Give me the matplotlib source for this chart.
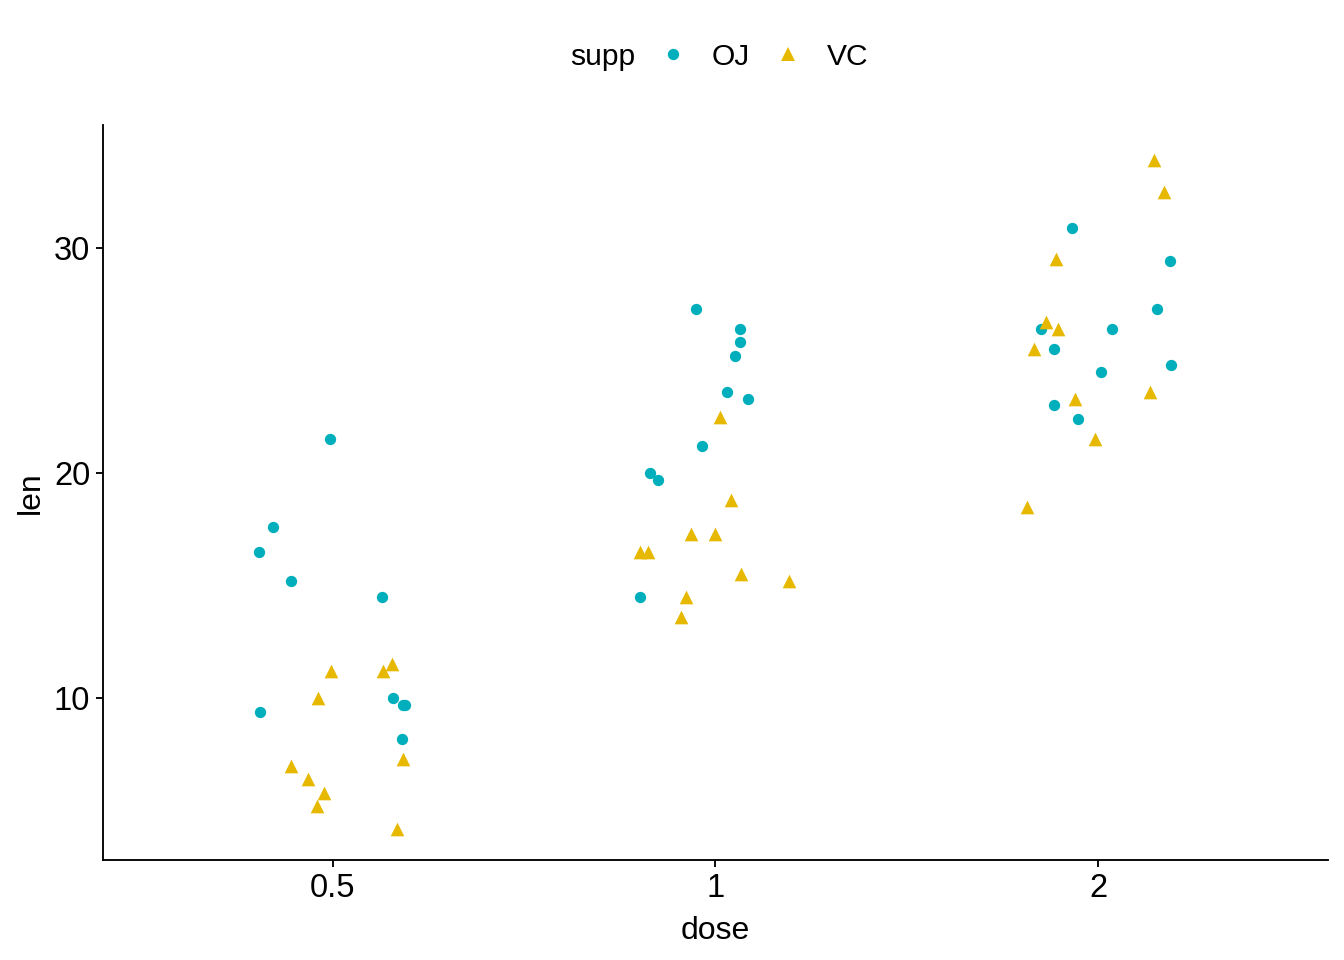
import numpy as np
import matplotlib
matplotlib.use('Agg')
import matplotlib.pyplot as plt
from matplotlib.lines import Line2D

plt.rcParams['font.family'] = ['Liberation Sans', 'DejaVu Sans']

# --- данные (ToothGrowth), смещения по x ---
doses = ['0.5', '1', '2']

oj_len = {
    '0.5': [16.5, 17.6, 15.2, 21.5, 14.5, 9.4, 10.0, 9.7, 9.7, 8.2],
    '1': [27.3, 26.4, 25.8, 25.2, 23.6, 23.3, 21.2, 20.0, 19.7, 14.5],
    '2': [30.9, 29.4, 27.3, 26.4, 26.4, 25.5, 24.8, 24.5, 23.0, 22.4],
}
oj_jitter = {
    '0.5': [-0.193, -0.157, -0.110, -0.008, 0.128, -0.191, 0.157, 0.183, 0.188, 0.180],
    '1': [-0.052, 0.065, 0.065, 0.052, 0.031, 0.086, -0.034, -0.170, -0.149, -0.198],
    '2': [-0.068, 0.188, 0.154, -0.149, 0.037, -0.115, 0.191, 0.008, -0.115, -0.052],
}

vc_len = {
    '0.5': [11.2, 10.0, 7.0, 6.4, 5.8, 5.2, 11.2, 11.5, 7.3, 4.2],
    '1': [22.5, 18.8, 17.3, 17.3, 16.5, 16.5, 15.5, 15.2, 14.5, 13.6],
    '2': [33.9, 32.5, 29.5, 26.7, 26.4, 25.5, 23.3, 23.6, 21.5, 18.5],
}
vc_jitter = {
    '0.5': [-0.003, -0.037, -0.110, -0.065, -0.023, -0.042, 0.131, 0.154, 0.183, 0.167],
    '1': [0.013, 0.042, -0.065, 0.0, -0.196, -0.175, 0.068, 0.193, -0.076, -0.089],
    '2': [0.146, 0.172, -0.110, -0.136, -0.104, -0.167, -0.060, 0.136, -0.008, -0.185],
}

oj_color = '#00AFBB'
vc_color = '#E7B800'

fig = plt.figure(figsize=(14, 10), dpi=96)
ax = fig.add_axes([0.0766, 0.104, 0.9114, 0.766])

for i, d in enumerate(doses):
    pos = i + 1
    ax.scatter(pos + np.array(oj_jitter[d]), oj_len[d], s=72, marker='o',
               color=oj_color, linewidths=0, zorder=3)
    ax.scatter(pos + np.array(vc_jitter[d]), vc_len[d], s=105, marker='^',
               color=vc_color, linewidths=0, zorder=3)

ax.set_xlim(0.4, 3.6)
ax.set_ylim(2.8, 35.47)
ax.set_xticks(range(1, len(doses) + 1))
ax.set_xticklabels(doses)
ax.set_yticks([10, 20, 30])

ax.set_xlabel('dose', fontsize=24, labelpad=9)
ax.set_ylabel('len', fontsize=24, labelpad=6)

for side in ['top', 'right']:
    ax.spines[side].set_visible(False)
for side in ['left', 'bottom']:
    ax.spines[side].set_linewidth(1.4)
ax.tick_params(axis='both', labelsize=24.5, length=5.5, width=1.4, color='black', pad=4)

# легенда сверху: заголовок слева в одну строку
handles = [
    Line2D([], [], linestyle='none', marker=None),
    Line2D([], [], linestyle='none', marker='o', markersize=8.5,
           markerfacecolor=oj_color, markeredgewidth=0),
    Line2D([], [], linestyle='none', marker='^', markersize=10.5,
           markerfacecolor=vc_color, markeredgewidth=0),
]
labels = ['supp', 'OJ', 'VC']
fig.legend(handles, labels, loc='center', bbox_to_anchor=(0.518, 0.941),
           ncol=3, frameon=False, fontsize=22.5, handlelength=0.5,
           handletextpad=1.05, columnspacing=1.0)

fig.savefig('out.png', dpi=96)
